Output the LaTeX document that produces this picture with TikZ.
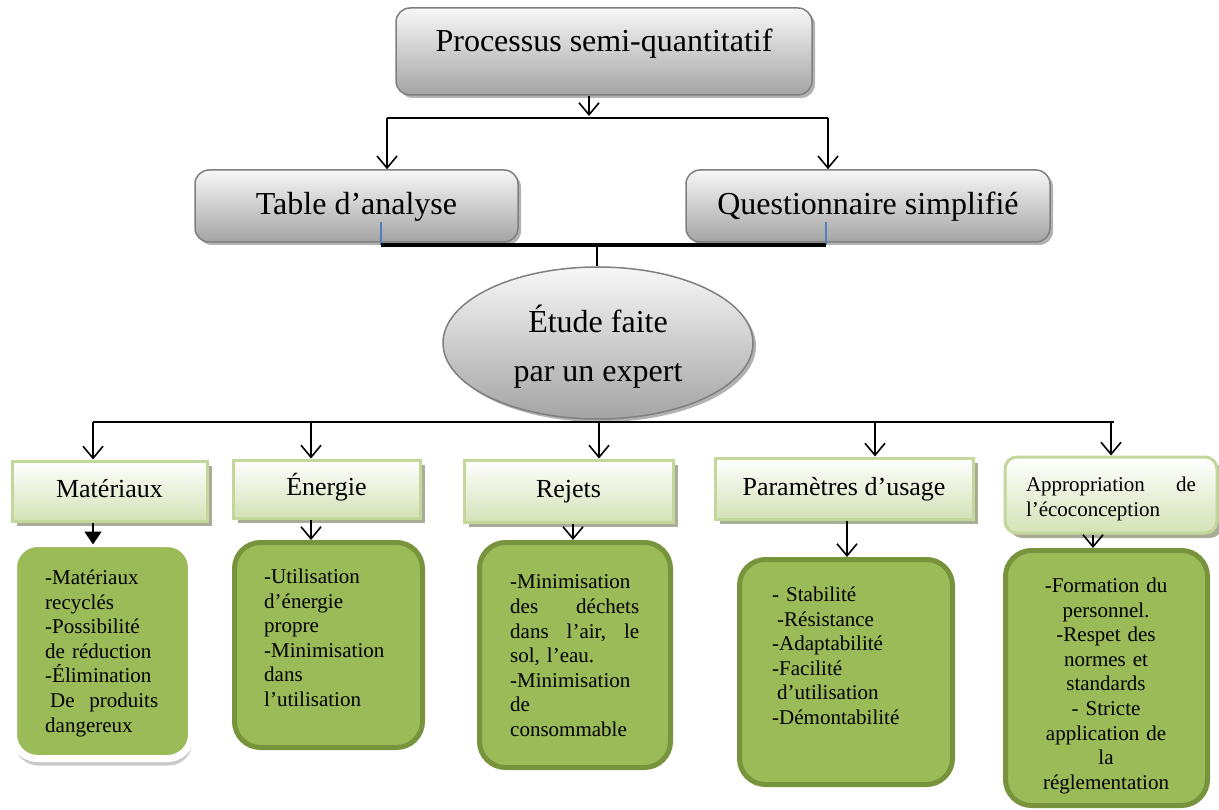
\documentclass[tikz,border=0pt]{standalone}
\usepackage{fontspec}
\setmainfont{Liberation Serif}
\usetikzlibrary{arrows.meta,shapes.geometric,shadows,calc}

\definecolor{grayTop}{HTML}{F7F7F7}
\definecolor{grayBot}{HTML}{A4A4A4}
\definecolor{grayLine}{HTML}{7F7F7F}
\definecolor{headBot}{HTML}{D4E2B6}
\definecolor{headLine}{HTML}{C3D69B}
\definecolor{headShadow}{HTML}{A9AD98}
\definecolor{bodyFill}{HTML}{9BBB59}
\definecolor{bodyLine}{HTML}{77933C}
\definecolor{tickBlue}{HTML}{4F81BD}

\begin{document}
\begin{tikzpicture}[x=1pt,y=-1pt,
  graybase/.style={draw=grayLine, line width=1.5pt, top color=grayTop, bottom color=grayBot,
    inner sep=0pt, font=\fontsize{32}{36}\selectfont,
    drop shadow={shadow xshift=3pt, shadow yshift=-3pt, fill=black!50, opacity=0.6}},
  graybox/.style={graybase, rounded corners=14pt},
  grayoval/.style={graybase, ellipse, align=center, font=\fontsize{32}{49}\selectfont},
  headbase/.style={draw=headLine, line width=3pt, top color=white, bottom color=headBot,
    inner sep=0pt, drop shadow={shadow xshift=5pt, shadow yshift=-5pt, fill=headShadow, opacity=1}},
  headbox/.style={headbase, font=\fontsize{26}{30}\selectfont, text height=18pt, text depth=5pt},
  bodybox/.style={draw=bodyLine, line width=5pt, fill=bodyFill, rounded corners=26pt, inner sep=0pt},
  matbox/.style={draw=white, line width=7pt, fill=bodyFill, rounded corners=24pt, inner sep=0pt,
    drop shadow={shadow xshift=1pt, shadow yshift=-7pt, fill=black!35, opacity=0.6}},
  bodytext/.style={inner sep=0pt, align=left, font=\fontsize{21}{24.6}\selectfont},
  conn/.style={line width=1.6pt},
  arr/.style={conn, -{Straight Barb[length=12pt,width=20pt]}},
  arrfill/.style={conn, -{Triangle[length=13pt,width=17pt]}},
  tick/.style={draw=tickBlue, line width=1.5pt},
  merge/.style={line width=3.5pt}
]
\useasboundingbox (0,0) rectangle (1219,810);
\fill[white] (0,0) rectangle (1219,810);

% upper levels
\node[graybox, minimum width=416pt, minimum height=87pt, text height=22pt, text depth=21pt]
  (proc) at (604,51.5) {Processus semi-quantitatif};
\node[graybox, minimum width=323pt, minimum height=72pt, text height=22pt, text depth=4pt]
  (tab) at (356.5,206) {Table d’analyse};
\node[graybox, minimum width=364pt, minimum height=72pt, text height=22pt, text depth=4pt]
  (quest) at (868,206) {Questionnaire simplifié};
\node[grayoval, minimum width=310pt, minimum height=152pt]
  (etude) at (598,343) {\rule{0pt}{35pt}Étude faite\\par un expert};

% criteria headers
\node[headbox, minimum width=195pt, minimum height=60pt] (h1) at (109.5,491) {Matériaux};
\node[headbox, minimum width=187pt, minimum height=58pt] (h2) at (326.5,489) {Énergie};
\node[headbox, minimum width=209pt, minimum height=62pt] (h3) at (568.5,491) {Rejets};
\node[headbox, minimum width=258pt, minimum height=61pt] (h4) at (844,488.5) {Paramètres d’usage};
\node[headbase, rounded corners=12pt, minimum width=212pt, minimum height=76pt,
  text width=170pt, align=left, font=\fontsize{21}{25}\selectfont]
  (h5) at (1111,495) {\rule{0pt}{21.5pt}Appropriation\hfill de\\l’écoconception};

% detail boxes
\node[matbox, minimum width=178pt, minimum height=215pt] (b1) at (102.5,651) {};
\node[bodybox, minimum width=188pt, minimum height=205pt] (b2) at (328.5,645) {};
\node[bodybox, minimum width=191pt, minimum height=225pt] (b3) at (575,655) {};
\node[bodybox, minimum width=213pt, minimum height=225pt] (b4) at (846,672) {};
\node[bodybox, minimum width=202pt, minimum height=255pt] (b5) at (1106.5,678) {};

\node[bodytext, anchor=north west, text width=113pt] (t1) at (45,569.7)
  {-Matériaux\\recyclés\\-Possibilité\\de réduction\\-Élimination\\\hspace*{5pt}De\hfill produits\\dangereux};
\node[bodytext, anchor=north west, text width=125pt] (t2) at (264,568.7)
  {-Utilisation\\d’énergie\\propre\\-Minimisation\\dans\\l’utilisation};
\node[bodytext, anchor=north west, text width=129pt] (t3) at (510,574.7)
  {-Minimisation\\des\hfill déchets\\dans\hfill l’air,\hfill le\\sol, l’eau.\\-Minimisation\\de\\consommable};
\node[bodytext, anchor=north west, text width=140pt] (t4) at (772,586.7)
  {- Stabilité\\\hspace*{5pt}-Résistance\\-Adaptabilité\\-Facilité\\\hspace*{5pt}d’utilisation\\-Démontabilité};
\node[bodytext, align=center, anchor=north, text width=190pt] (t5) at (1106,577.7)
  {-Formation du\\personnel.\\-Respet des\\normes et\\standards\\- Stricte\\application de\\la\\réglementation};

% split below the process
\coordinate (p0) at (589,118);
\coordinate (pl) at (387,118);
\coordinate (pr) at (828,118);
\draw[arr, shorten >=2pt] (proc.south -| p0) -- (p0);
\draw[conn] (pl) -- (pr);
\draw[arr] (pl) -- (pl |- tab.north);
\draw[arr] (pr) -- (pr |- quest.north);

% merge towards the expert study
\coordinate (mlt) at (381,222);
\coordinate (ml) at (381,245);
\coordinate (mrt) at (826,222);
\coordinate (mr) at (826,245);
\coordinate (mm) at (597,245);
\draw[tick] (mlt) -- (ml);
\draw[tick] (mrt) -- (mr);
\draw[merge] (ml) -- (mr);
\draw[conn] (mm) -- (mm |- etude.north);

% distribution to the criteria
\coordinate (q1) at (93,422);
\coordinate (q2) at (311,422);
\coordinate (q3) at (599,422);
\coordinate (q4) at (875,422);
\coordinate (q5) at (1111,422);
\coordinate (qe) at (1114,422);
\draw[conn] (q1) -- (qe);
\draw[arr] (q1) -- (q1 |- h1.north);
\draw[arr] (q2) -- (q2 |- h2.north);
\draw[arr] (q3) -- (q3 |- h3.north);
\draw[arr] (q4) -- (q4 |- h4.north);
\draw[arr] (q5) -- (q5 |- h5.north);

% criteria to details
\coordinate (r3) at (573,500);
\coordinate (r4) at (847,500);
\coordinate (r5) at (1093,500);
\draw[arrfill, shorten >=-4.5pt] (h1.south -| q1) -- (q1 |- b1.north);
\draw[arr] (h2.south -| q2) -- (q2 |- b2.north);
\draw[arr] (h3.south -| r3) -- (r3 |- b3.north);
\draw[arr] (h4.south -| r4) -- (r4 |- b4.north);
\draw[arr] (h5.south -| r5) -- (r5 |- b5.north);
\end{tikzpicture}
\end{document}
